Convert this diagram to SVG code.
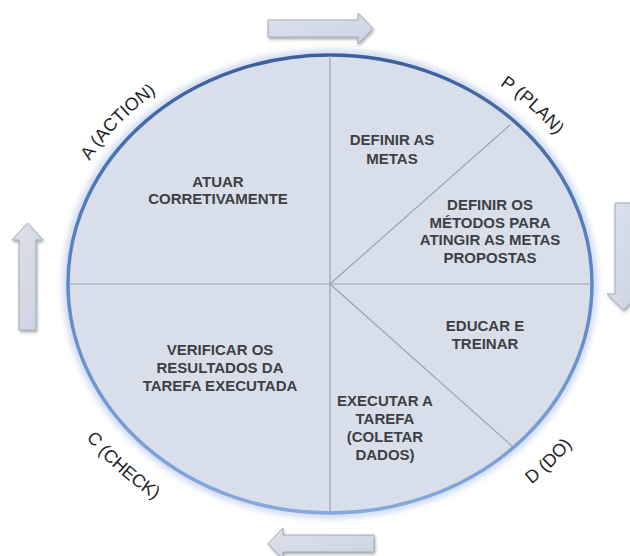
<svg xmlns="http://www.w3.org/2000/svg" width="630" height="556" viewBox="0 0 630 556">
  <defs>
    <linearGradient id="rimGrad" x1="0" y1="0" x2="0" y2="1">
      <stop offset="0" stop-color="#3d5f9c"/>
      <stop offset="0.5" stop-color="#5f88c8"/>
      <stop offset="1" stop-color="#86a8de"/>
    </linearGradient>
    <linearGradient id="arrowFill" x1="0" y1="0" x2="1" y2="1">
      <stop offset="0" stop-color="#dde2ec"/>
      <stop offset="1" stop-color="#cbd2e0"/>
    </linearGradient>
    <filter id="shadow" x="-20%" y="-40%" width="140%" height="180%">
      <feDropShadow dx="1" dy="2" stdDeviation="1.4" flood-color="#6b6f78" flood-opacity="0.55"/>
    </filter>
    <filter id="halo" x="-10%" y="-10%" width="120%" height="120%">
      <feGaussianBlur stdDeviation="3"/>
    </filter>
    <!-- baseline arcs for the phase labels -->
    <path id="arcA" d="M56.2,241.5 A278,245 0 0 1 234.9,53.8"/>
    <path id="arcP" d="M407.7,44.6 A282,249 0 0 1 603.6,223.8"/>
    <path id="arcC" d="M39.9,348.3 A299,266 0 0 0 247.6,539.7"/>
    <path id="arcD" d="M425.3,539.3 A302,269 0 0 0 625.8,338.1"/>
  </defs>
  <style>
    .arrow { fill: url(#arrowFill); stroke: #a3aab8; stroke-width: 1; filter: url(#shadow); }
    .divider { stroke: #9aa2b1; stroke-width: 1.2; fill: none; }
    .step { font-family: "Liberation Sans", Arial, sans-serif; font-weight: bold; font-size: 15px; fill: #3d3f44; text-anchor: middle; }
    .phase { font-family: "Liberation Sans", Arial, sans-serif; font-size: 18px; fill: #232427; }
  </style>

  <rect width="630" height="556" fill="#ffffff"/>

  <!-- cycle disc -->
  <g id="disc">
    <ellipse cx="330" cy="284" rx="264" ry="231" fill="none" stroke="#a9c0e6" stroke-width="6" opacity="0.7" filter="url(#halo)"/>
    <ellipse cx="330" cy="284" rx="262" ry="229" fill="#d9dfea" stroke="url(#rimGrad)" stroke-width="3.5"/>
  </g>

  <!-- sector dividers -->
  <g id="dividers">
    <line class="divider" x1="330" y1="56" x2="330" y2="512"/>
    <line class="divider" x1="69" y1="284" x2="591" y2="284"/>
    <line class="divider" x1="330" y1="284" x2="510" y2="125"/>
    <line class="divider" x1="330" y1="284" x2="512" y2="446"/>
  </g>

  <!-- flow arrows around the cycle -->
  <g id="connectors">
    <path class="arrow" d="M268,20 H358 V13 L373,28.5 L358,44 V37 H268 Z"/>
    <path class="arrow" d="M615,203 H632 V294 H640 L623.5,310 L607,294 H615 Z"/>
    <path class="arrow" d="M374,535 H283 V528 L268,543.5 L283,559 V552 H374 Z"/>
    <path class="arrow" d="M19,330 V240 H12 L27.5,223 L43,240 H36 V330 Z"/>
  </g>

  <!-- sector texts -->
  <g id="step-atuar">
    <text class="step" x="218" y="187">ATUAR</text>
    <text class="step" x="218" y="204">CORRETIVAMENTE</text>
  </g>
  <g id="step-metas">
    <text class="step" x="392" y="145">DEFINIR AS</text>
    <text class="step" x="392" y="163.5">METAS</text>
  </g>
  <g id="step-metodos">
    <text class="step" x="490" y="210">DEFINIR OS</text>
    <text class="step" x="490" y="227.5">MÉTODOS PARA</text>
    <text class="step" x="490" y="245">ATINGIR AS METAS</text>
    <text class="step" x="490" y="262.5">PROPOSTAS</text>
  </g>
  <g id="step-educar">
    <text class="step" x="485" y="331">EDUCAR E</text>
    <text class="step" x="485" y="349">TREINAR</text>
  </g>
  <g id="step-executar">
    <text class="step" x="385" y="406">EXECUTAR A</text>
    <text class="step" x="385" y="424">TAREFA</text>
    <text class="step" x="385" y="442">(COLETAR</text>
    <text class="step" x="385" y="459.5">DADOS)</text>
  </g>
  <g id="step-verificar">
    <text class="step" x="220" y="354.5">VERIFICAR OS</text>
    <text class="step" x="220" y="373">RESULTADOS DA</text>
    <text class="step" x="220" y="391">TAREFA EXECUTADA</text>
  </g>

  <!-- phase labels -->
  <g id="phase-action">
    <text class="phase"><textPath href="#arcA" startOffset="50%" text-anchor="middle">A (ACTION)</textPath></text>
  </g>
  <g id="phase-plan">
    <text class="phase"><textPath href="#arcP" startOffset="50%" text-anchor="middle">P (PLAN)</textPath></text>
  </g>
  <g id="phase-check">
    <text class="phase"><textPath href="#arcC" startOffset="50%" text-anchor="middle">C (CHECK)</textPath></text>
  </g>
  <g id="phase-do">
    <text class="phase"><textPath href="#arcD" startOffset="50%" text-anchor="middle">D (DO)</textPath></text>
  </g>
</svg>
